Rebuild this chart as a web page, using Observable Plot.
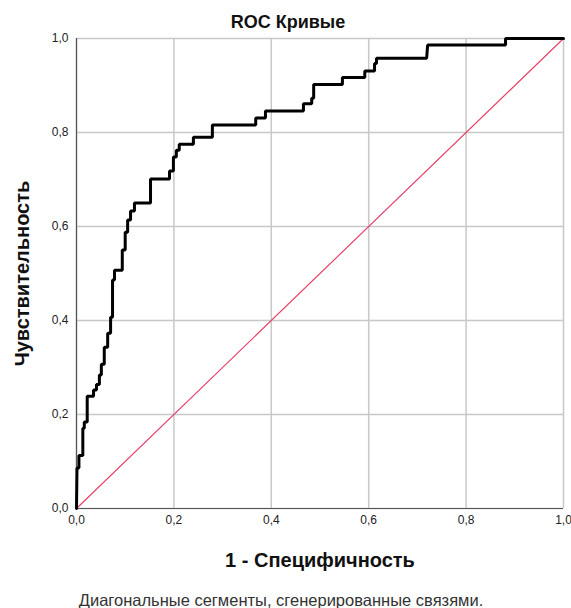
<!DOCTYPE html>
<html>
<head>
<meta charset="utf-8">
<script src="https://cdn.jsdelivr.net/npm/d3@7"></script>
<script src="https://cdn.jsdelivr.net/npm/@observablehq/plot@0.6"></script>
<style>
  html, body { margin: 0; padding: 0; background: #fff; }
  svg { display: block; }
</style>
</head>
<body>
<div id="chart"></div>
<script>
const titleText = "ROC Кривые";
const xLabel = "1 - Специфичность";
const yLabel = "Чувствительность";
const footnote = "Диагональные сегменты, сгенерированные связями.";
const ticks = [0, 0.2, 0.4, 0.6, 0.8, 1.0];

// ROC curve vertices (1 - specificity, sensitivity)
const fpr = [0, 0.001, 0.005, 0.005, 0.013, 0.013, 0.016, 0.016, 0.022, 0.022,
  0.035, 0.035, 0.041, 0.041, 0.047, 0.047, 0.051, 0.051, 0.057, 0.057,
  0.064, 0.064, 0.070, 0.070, 0.074, 0.074, 0.078, 0.078, 0.094, 0.094,
  0.100, 0.100, 0.105, 0.105, 0.111, 0.111, 0.119, 0.119, 0.152, 0.152,
  0.191, 0.191, 0.199, 0.199, 0.205, 0.205, 0.211, 0.211, 0.240, 0.240,
  0.279, 0.279, 0.368, 0.368, 0.388, 0.388, 0.466, 0.466, 0.483, 0.483,
  0.487, 0.487, 0.546, 0.546, 0.592, 0.592, 0.612, 0.612, 0.616, 0.616,
  0.719, 0.721, 0.881, 0.881, 1.0];
const tpr = [0, 0.086, 0.086, 0.113, 0.113, 0.171, 0.171, 0.184, 0.184, 0.239,
  0.239, 0.252, 0.252, 0.264, 0.264, 0.284, 0.284, 0.307, 0.307, 0.343,
  0.343, 0.373, 0.373, 0.407, 0.407, 0.486, 0.486, 0.507, 0.507, 0.550,
  0.550, 0.588, 0.588, 0.614, 0.614, 0.633, 0.633, 0.650, 0.650, 0.701,
  0.701, 0.718, 0.718, 0.748, 0.748, 0.762, 0.762, 0.775, 0.775, 0.790,
  0.790, 0.816, 0.816, 0.831, 0.831, 0.846, 0.846, 0.861, 0.861, 0.873,
  0.873, 0.902, 0.902, 0.917, 0.917, 0.931, 0.931, 0.947, 0.947, 0.958,
  0.958, 0.986, 0.986, 1.0, 1.0];

// Reference diagonal
const refLine = [0, 1];

const curve = fpr.map((x, i) => ({x, y: tpr[i]}));
const diag = refLine.map(v => ({x: v, y: v}));
const fmt = d => d3.format(".1f")(d).replace(".", ",");
const font = "Liberation Sans, Arial, sans-serif";

const chart = Plot.plot({
  width: 571,
  height: 608,
  marginLeft: 76,
  marginRight: 8,
  marginTop: 38,
  marginBottom: 100,
  style: {fontFamily: font, fontSize: "12px", color: "#222", background: "#fff"},
  x: {domain: [0, 1], ticks, tickFormat: fmt, label: null},
  y: {domain: [0, 1], ticks, tickFormat: fmt, label: null},
  marks: [
    Plot.gridX(ticks, {stroke: "#c8c8c8", strokeOpacity: 1, strokeWidth: 1.5}),
    Plot.gridY(ticks, {stroke: "#c8c8c8", strokeOpacity: 1, strokeWidth: 1.5}),
    Plot.axisX({ticks, tickFormat: fmt, tickSize: 0, tickPadding: 7, label: null, fontSize: 12}),
    Plot.axisY({ticks, tickFormat: fmt, tickSize: 0, tickPadding: 8, label: null, fontSize: 12}),
    Plot.ruleX([0], {stroke: "#555", strokeWidth: 1.2}),
    Plot.ruleY([0], {stroke: "#555", strokeWidth: 1.2}),
    Plot.line(diag, {x: "x", y: "y", stroke: "#e8426a", strokeWidth: 1.2}),
    Plot.line(curve, {x: "x", y: "y", stroke: "#000", strokeWidth: 3, strokeLinejoin: "miter"}),
    Plot.text([titleText], {frameAnchor: "top", dy: -16, dx: -32, lineAnchor: "middle", textAnchor: "middle", text: d => d, fontSize: 18, fontWeight: "bold", fill: "#111"}),
    Plot.text([yLabel], {frameAnchor: "left", dx: -54, rotate: -90, lineAnchor: "middle", textAnchor: "middle", text: d => d, fontSize: 20, fontWeight: "bold", fill: "#111"}),
    Plot.text([xLabel], {frameAnchor: "bottom", dy: 52, lineAnchor: "middle", textAnchor: "middle", text: d => d, fontSize: 20, fontWeight: "bold", fill: "#111"}),
    Plot.text([footnote], {frameAnchor: "bottom", dy: 92, dx: -39, lineAnchor: "middle", textAnchor: "middle", text: d => d, fontSize: 16.5, fill: "#333"})
  ]
});
document.getElementById("chart").appendChild(chart);
</script>
</body>
</html>
